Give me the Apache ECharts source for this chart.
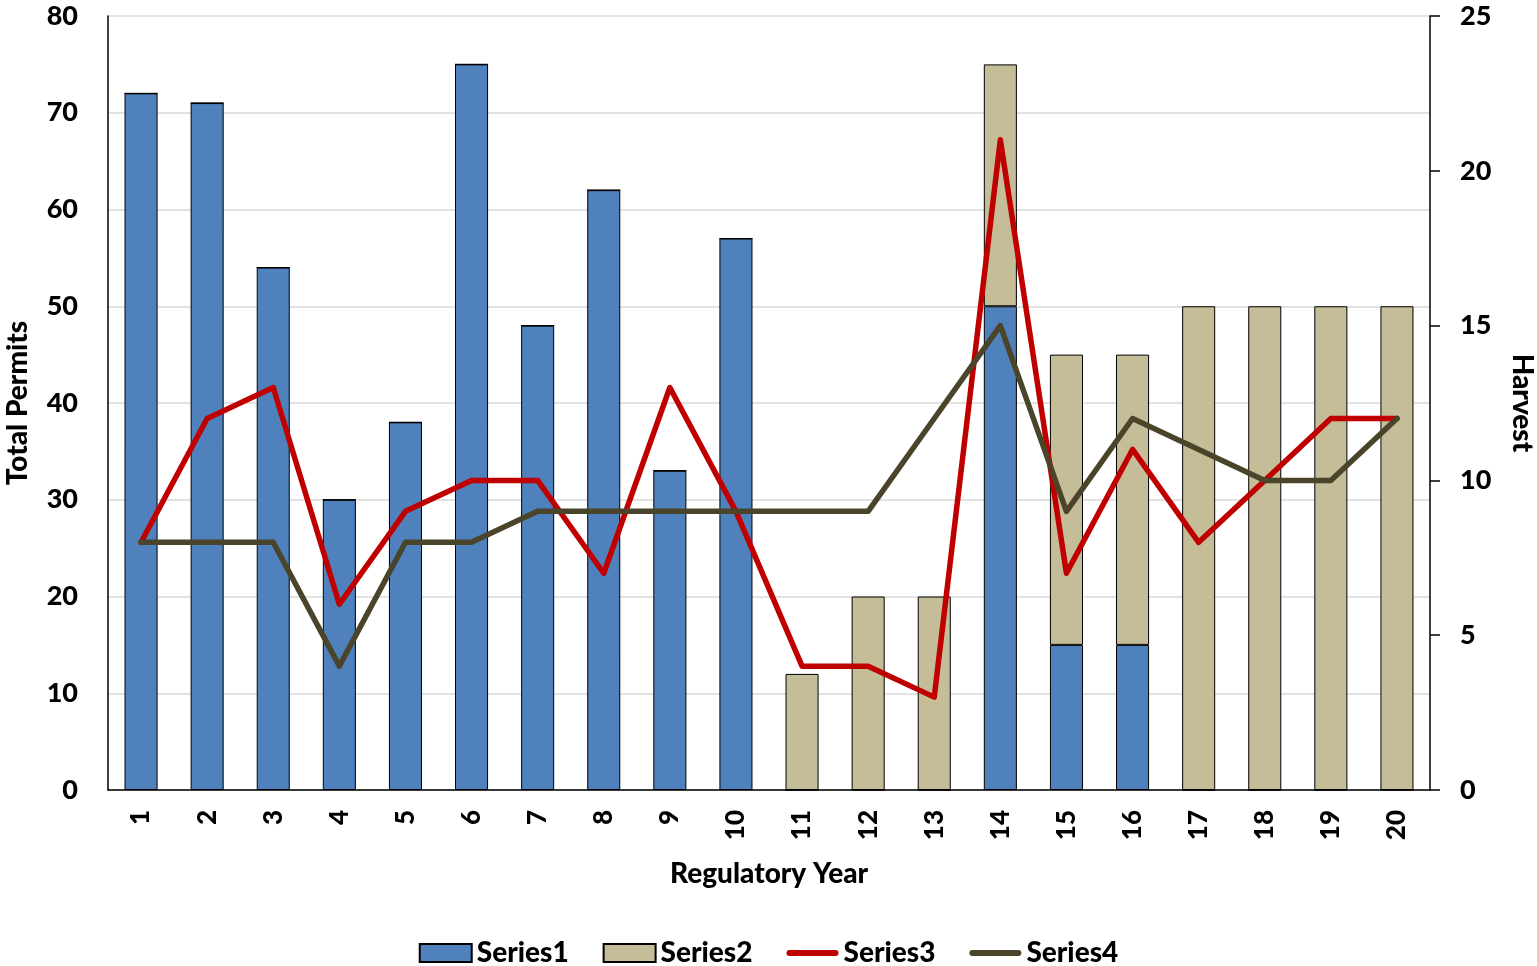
<!DOCTYPE html>
<html><head><meta charset="utf-8">
<script src="https://cdn.jsdelivr.net/npm/echarts@6/dist/echarts.min.js"></script>
<style>html,body{margin:0;padding:0;background:#fff}#c{width:1537px;height:966px}</style>
</head><body><div id="c"></div>
<script>
const categories = ['1','2','3','4','5','6','7','8','9','10','11','12','13','14','15','16','17','18','19','20'];
const series1 = [72,71,54,30,38,75,48,62,33,57,0,0,0,50,15,15,0,0,0,0];
const series2 = [0,0,0,0,0,0,0,0,0,0,12,20,20,25,30,30,50,50,50,50];
const series3 = [8,12,13,6,9,10,10,7,13,9,4,4,3,21,7,11,8,10,12,12];
const series4 = [8,8,8,4,8,8,9,9,9,9,9,9,12,15,9,12,11,10,10,12];

const FONT = 'Lato';
const W = 900;
const lineIcon = 'path://M0,0 M52,18 M3,6 L49,6 A3,3 0 0 1 49,12 L3,12 A3,3 0 0 1 3,6 Z';
const chart = echarts.init(document.getElementById('c'));
chart.setOption({
  animation: false,
  textStyle: {fontFamily: FONT},
  grid: {left: 108, right: 107, top: 16, bottom: 176, outerBoundsMode: 'none', containLabel: false},
  legend: {
    top: 934, left: 'center', itemWidth: 52, itemHeight: 18, itemGap: 34,
    textStyle: {fontFamily: FONT, fontWeight: W, fontSize: 28, color: '#000'},
    data: [{name:'Series1', icon:'rect'}, {name:'Series2', icon:'rect'}, {name:'Series3', icon: lineIcon}, {name:'Series4', icon: lineIcon}]
  },
  xAxis: {
    type: 'category', data: categories,
    name: 'Regulatory Year', nameLocation: 'middle', nameGap: 70,
    nameTextStyle: {fontFamily: FONT, fontWeight: W, fontSize: 28, color: '#000'},
    axisLine: {lineStyle: {color: '#000', width: 1.5}},
    axisTick: {show: false},
    axisLabel: {rotate: 90, fontWeight: W, fontSize: 26, color: '#000', margin: 20}
  },
  yAxis: [{
    type: 'value', min: 0, max: 80, interval: 10,
    name: 'Total Permits', nameLocation: 'middle', nameGap: 76, nameRotate: 90,
    nameTextStyle: {fontFamily: FONT, fontWeight: W, fontSize: 28, color: '#000'},
    axisLine: {show: true, lineStyle: {color: '#000', width: 1.5}},
    axisTick: {show: false},
    splitLine: {lineStyle: {color: '#D9D9D9', width: 1.5}},
    axisLabel: {fontWeight: W, fontSize: 27, color: '#000', margin: 30}
  }, {
    type: 'value', min: 0, max: 25, interval: 5, position: 'right',
    name: 'Harvest', nameLocation: 'middle', nameGap: 78, nameRotate: -90,
    nameTextStyle: {fontFamily: FONT, fontWeight: W, fontSize: 28, color: '#000'},
    axisLine: {show: true, lineStyle: {color: '#000', width: 1.5}},
    axisTick: {show: true, length: 10, lineStyle: {color: '#000', width: 1.5}},
    splitLine: {show: false},
    axisLabel: {fontWeight: W, fontSize: 27, color: '#000', margin: 30}
  }],
  series: [
    {name: 'Series1', type: 'bar', stack: 'p', data: series1, barWidth: '50%',
     itemStyle: {color: '#4F81BD', borderColor: '#000', borderWidth: 1}},
    {name: 'Series2', type: 'bar', stack: 'p', data: series2, barWidth: '50%',
     itemStyle: {color: '#C4BD97', borderColor: '#000', borderWidth: 1}},
    {name: 'Series3', type: 'line', yAxisIndex: 1, data: series3, symbol: 'none',
     lineStyle: {color: '#C00000', width: 5.5, cap: 'round', join: 'round'}, itemStyle: {color: '#C00000'}},
    {name: 'Series4', type: 'line', yAxisIndex: 1, data: series4, symbol: 'none',
     lineStyle: {color: '#4A452A', width: 5.5, cap: 'round', join: 'round'}, itemStyle: {color: '#4A452A'}}
  ]
});
</script></body></html>
